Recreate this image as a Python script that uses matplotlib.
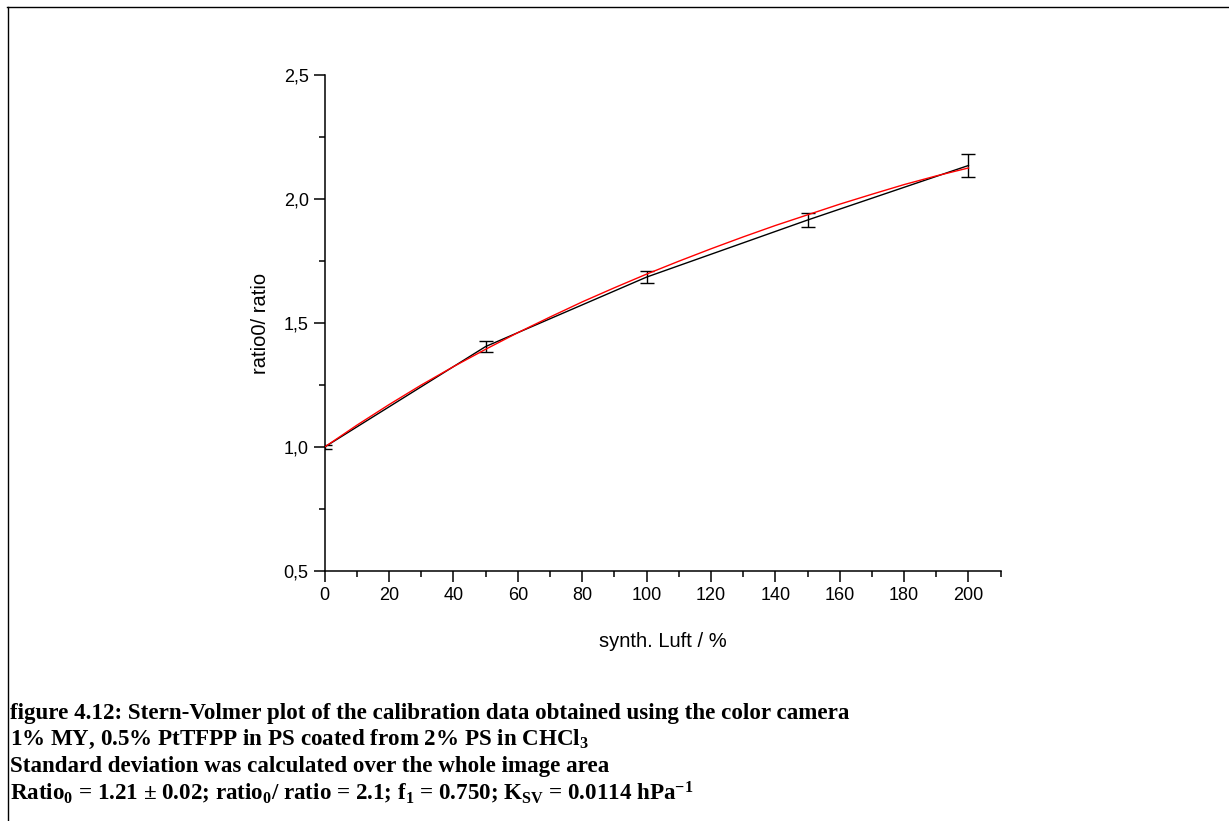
import numpy as np
import matplotlib
matplotlib.use("Agg")
import matplotlib.pyplot as plt
from matplotlib.lines import Line2D
from matplotlib.ticker import MultipleLocator, FuncFormatter

# measured calibration points (synthetic air %, ratio0/ratio, std dev)
luft = [0, 50, 100, 150, 200]
ratio_q = [1.00, 1.405, 1.685, 1.915, 2.135]
ratio_err = [0.01, 0.024, 0.025, 0.03, 0.045]

# two-site Stern-Volmer fit curve
fit_x = [0, 10, 20, 30, 40, 50, 60, 70, 80, 90, 100,
         110, 120, 130, 140, 150, 160, 170, 180, 190, 200]
fit_y = [1.000, 1.088, 1.171, 1.250, 1.324, 1.394, 1.461, 1.524, 1.585, 1.642, 1.697,
         1.749, 1.799, 1.847, 1.893, 1.936, 1.979, 2.019, 2.058, 2.093, 2.125]

caption = [
    "figure 4.12: Stern-Volmer plot of the calibration data obtained using the color camera",
    "1% MY, 0.5% PtTFPP in PS coated from 2% PS in CHCl$_3$",
    "Standard deviation was calculated over the whole image area",
    "Ratio$_0$ = 1.21 \u00b1 0.02; ratio$_0$/ ratio = 2.1; f$_1$ = 0.750; K$_{SV}$ = 0.0114 hPa$^{-1}$",
]

plt.rcParams["font.family"] = "Liberation Sans"
plt.rcParams["mathtext.fontset"] = "custom"
plt.rcParams["mathtext.rm"] = "Liberation Serif:bold"
plt.rcParams["mathtext.it"] = "Liberation Serif:bold"
plt.rcParams["mathtext.bf"] = "Liberation Serif:bold"

fig = plt.figure(figsize=(12.29, 8.21), dpi=100)
ax = fig.add_axes([0.2642, 0.3045, 0.55, 0.6042])

ax.plot(fit_x, fit_y, color="red", lw=1.0, zorder=3)
ax.errorbar(luft, ratio_q, yerr=ratio_err, color="black", lw=1.0,
            elinewidth=1.0, capsize=5, capthick=1.0, zorder=2)

ax.set_xlim(0, 210)
ax.set_ylim(0.5, 2.5)
ax.xaxis.set_major_locator(MultipleLocator(20))
ax.xaxis.set_minor_locator(MultipleLocator(10))
ax.yaxis.set_major_locator(MultipleLocator(0.5))
ax.yaxis.set_minor_locator(MultipleLocator(0.25))
ax.yaxis.set_major_formatter(FuncFormatter(lambda v, p: f"{v:.1f}".replace(".", ",")))
ax.xaxis.set_major_formatter(FuncFormatter(lambda v, p: f"{v:.0f}"))

for side in ("top", "right"):
    ax.spines[side].set_visible(False)
for side in ("left", "bottom"):
    ax.spines[side].set_linewidth(1.1)
ax.tick_params(which="major", direction="out", length=8, width=1.1, labelsize=13)
ax.tick_params(which="minor", direction="out", length=4, width=1.1)

ax.set_xlabel("synth. Luft / %", fontsize=14.5, labelpad=20)
ax.set_ylabel("ratio0/ ratio", fontsize=14.5, labelpad=10)

# frame lines around the figure block
fig.add_artist(Line2D([7 / 1229, 1.0], [1 - 6.7 / 821, 1 - 6.7 / 821],
                      transform=fig.transFigure, color="black", lw=1.0))
fig.add_artist(Line2D([7.7 / 1229, 7.7 / 1229], [0.0, 1 - 6.7 / 821],
                      transform=fig.transFigure, color="black", lw=1.0))

for i, line in enumerate(caption):
    fig.text(10 / 1229, 1 - (713 + 26.7 * i) / 821, line, family="Liberation Serif",
             fontweight="bold", fontsize=16.6, va="center", ha="left")

fig.savefig("out.png", dpi=100)
